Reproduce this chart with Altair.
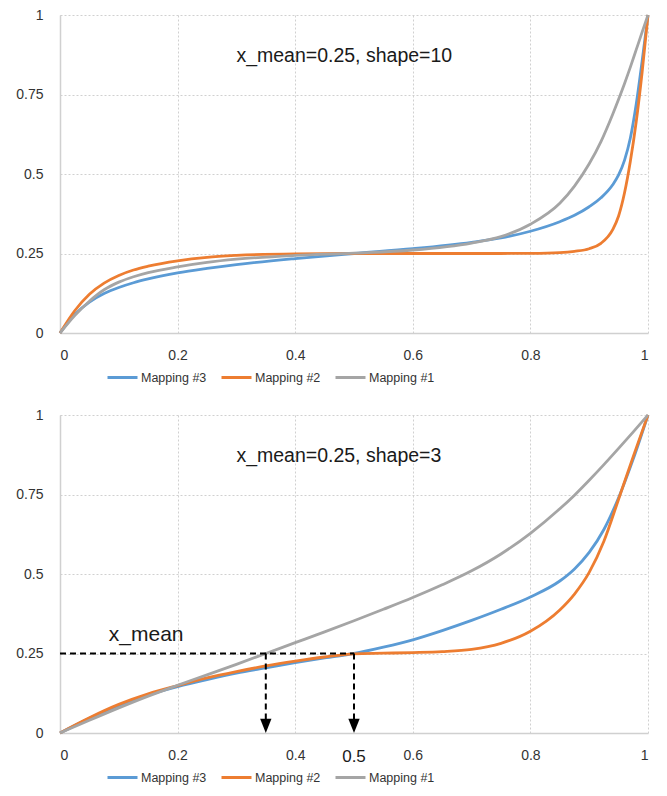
import altair as alt
import pandas as pd

# ---------------- data ----------------
SERIES = ["Mapping #3", "Mapping #2", "Mapping #1"]
COLORS = ["#5B9BD5", "#ED7D31", "#A5A5A5"]

# top panel: x_mean=0.25, shape=10
top_x = [0, 0.025, 0.05, 0.075, 0.1, 0.125, 0.15, 0.2, 0.25, 0.3, 0.4, 0.5, 0.6, 0.7, 0.75,
         0.8, 0.85, 0.875, 0.9, 0.92, 0.94, 0.95, 0.96, 0.97, 0.98, 0.99, 1.0]
top_m3 = [0, 0.058, 0.097, 0.124, 0.143, 0.158, 0.17, 0.189, 0.203, 0.215, 0.234, 0.25, 0.265, 0.285, 0.299,
          0.32, 0.35, 0.37, 0.397, 0.425, 0.466, 0.497, 0.543, 0.613, 0.72, 0.855, 1.0]
top_m2 = [0, 0.07, 0.122, 0.157, 0.181, 0.198, 0.21, 0.227, 0.238, 0.244, 0.249, 0.25, 0.25, 0.25, 0.25,
          0.2505, 0.253, 0.257, 0.265, 0.282, 0.325, 0.368, 0.44, 0.54, 0.665, 0.82, 1.0]
top_m1 = [0, 0.055, 0.1, 0.136, 0.16, 0.177, 0.19, 0.208, 0.222, 0.232, 0.244, 0.251, 0.261, 0.283, 0.303,
          0.342, 0.408, 0.462, 0.532, 0.602, 0.688, 0.735, 0.784, 0.836, 0.891, 0.946, 1.0]

# bottom panel: x_mean=0.25, shape=3
bot_x = [0, 0.05, 0.1, 0.15, 0.2, 0.25, 0.3, 0.35, 0.4, 0.45, 0.5, 0.55, 0.6, 0.65,
         0.7, 0.75, 0.8, 0.85, 0.875, 0.9, 0.925, 0.95, 0.975, 1.0]
bot_m3 = [0, 0.046, 0.087, 0.12, 0.146, 0.168, 0.188, 0.205, 0.221, 0.236, 0.25, 0.27, 0.293, 0.322,
          0.354, 0.389, 0.428, 0.478, 0.516, 0.568, 0.64, 0.74, 0.862, 1.0]
bot_m2 = [0, 0.048, 0.09, 0.123, 0.149, 0.173, 0.193, 0.211, 0.226, 0.239, 0.249, 0.251, 0.253, 0.256,
          0.263, 0.282, 0.32, 0.387, 0.437, 0.505, 0.603, 0.735, 0.87, 1.0]
bot_m1 = [0, 0.04, 0.079, 0.116, 0.15, 0.183, 0.216, 0.25, 0.284, 0.318, 0.353, 0.389, 0.426, 0.466,
          0.51, 0.563, 0.628, 0.705, 0.748, 0.795, 0.844, 0.895, 0.947, 1.0]

titles = ["x_mean=0.25, shape=10", "x_mean=0.25, shape=3"]
title_pos = [0.3, 0.872]          # data x (left edge), data y
x_ticks = [0, 0.2, 0.4, 0.6, 0.8, 1]
y_ticks = [0, 0.25, 0.5, 0.75, 1]

# annotations of the bottom panel
x_mean_level = 0.25
hline_x = [0, 0.5]
arrow_x = [0.35, 0.5]
arrow_end = 0.04
xmean_label = ("x_mean", 0.083, 0.307)
half_label = ("0.5", 0.5)

W, H = 588, 318
FONT = "Liberation Sans"


def long_df(xs, ys_list):
    rows = []
    for name, ys in zip(SERIES, ys_list):
        for i, (x, y) in enumerate(zip(xs, ys)):
            rows.append({"x": x, "y": y, "series": name, "order": i})
    return pd.DataFrame(rows)


xscale = alt.Scale(domain=[0, 1], nice=False)
yscale = alt.Scale(domain=[0, 1], nice=False)


def panel(df, title):
    lines = alt.Chart(df).mark_line(strokeWidth=2.8, interpolate="monotone").encode(
        x=alt.X("x:Q", scale=xscale, axis=alt.Axis(values=x_ticks, format=".1~f", title=None)),
        y=alt.Y("y:Q", scale=yscale, axis=alt.Axis(values=y_ticks, format=".2~f", title=None)),
        color=alt.Color("series:N",
                        scale=alt.Scale(domain=SERIES, range=COLORS),
                        legend=alt.Legend(title=None, orient="none", direction="horizontal",
                                          legendX=46, legendY=346,
                                          symbolType="stroke", symbolSize=900,
                                          symbolStrokeWidth=3, labelOffset=2,
                                          columnPadding=8, labelFontSize=12.5,
                                          labelFont=FONT, labelColor="#333333")),
        order="order:Q",
    )
    tdf = pd.DataFrame({"x": [title_pos[0]], "y": [title_pos[1]], "t": [title]})
    ttl = alt.Chart(tdf).mark_text(align="left", baseline="middle", fontSize=19.5,
                                   font=FONT, color="#1a1a1a").encode(
        x=alt.X("x:Q", scale=xscale), y=alt.Y("y:Q", scale=yscale), text="t:N")
    return lines, ttl


top_lines, top_title = panel(long_df(top_x, [top_m3, top_m2, top_m1]), titles[0])
bot_lines, bot_title = panel(long_df(bot_x, [bot_m3, bot_m2, bot_m1]), titles[1])

# bottom annotations
hdf = pd.DataFrame({"x": [hline_x[0]], "x2": [hline_x[1]], "y": [x_mean_level]})
hrule = alt.Chart(hdf).mark_rule(color="black", strokeWidth=2, strokeDash=[6, 4]).encode(
    x=alt.X("x:Q", scale=xscale), x2="x2:Q", y=alt.Y("y:Q", scale=yscale))

vdf = pd.DataFrame({"x": arrow_x, "y": [x_mean_level] * 2, "y2": [arrow_end] * 2})
vrule = alt.Chart(vdf).mark_rule(color="black", strokeWidth=2, strokeDash=[6, 4]).encode(
    x=alt.X("x:Q", scale=xscale), y=alt.Y("y:Q", scale=yscale), y2="y2:Q")

adf = pd.DataFrame({"x": arrow_x, "y": [0, 0]})
heads = alt.Chart(adf).mark_point(shape="M-0.8,-2L0.8,-2L0,0Z", size=200, filled=True,
                                  color="black", opacity=1).encode(
    x=alt.X("x:Q", scale=xscale), y=alt.Y("y:Q", scale=yscale))

xmdf = pd.DataFrame({"x": [xmean_label[1]], "y": [xmean_label[2]], "t": [xmean_label[0]]})
xmtext = alt.Chart(xmdf).mark_text(align="left", baseline="middle", fontSize=21,
                                   font=FONT, color="#1a1a1a").encode(
    x=alt.X("x:Q", scale=xscale), y=alt.Y("y:Q", scale=yscale), text="t:N")

hldf = pd.DataFrame({"x": [half_label[1]], "y": [0.0], "t": [half_label[0]]})
half_text = alt.Chart(hldf).mark_text(align="center", baseline="middle", fontSize=17,
                                      font=FONT, color="#1a1a1a", dy=24).encode(
    x=alt.X("x:Q", scale=xscale), y=alt.Y("y:Q", scale=yscale), text="t:N")

top = alt.layer(top_lines, top_title).properties(width=W, height=H)
bot = alt.layer(bot_lines, bot_title, hrule, vrule, heads, xmtext, half_text).properties(width=W, height=H)

chart = alt.vconcat(top, bot, spacing=24).resolve_scale(color="independent").resolve_legend(
    color="independent"
).properties(
    padding={"left": 5, "top": 0, "right": 5, "bottom": 5}
).configure_view(stroke=None).configure_axis(
    grid=True, gridColor="#d0d0d0", gridDash=[2, 2], gridWidth=1,
    domainColor="#d0d0d0", domainWidth=1.5, ticks=False,
    labelFont=FONT, labelFontSize=14, labelColor="#333333",
).configure_axisY(
    labelPadding=17, minExtent=47, domain=True
).configure_axisX(
    labelPadding=15, domain=True
)

chart.save("out.html", embed_options={"renderer": "svg", "actions": False})
